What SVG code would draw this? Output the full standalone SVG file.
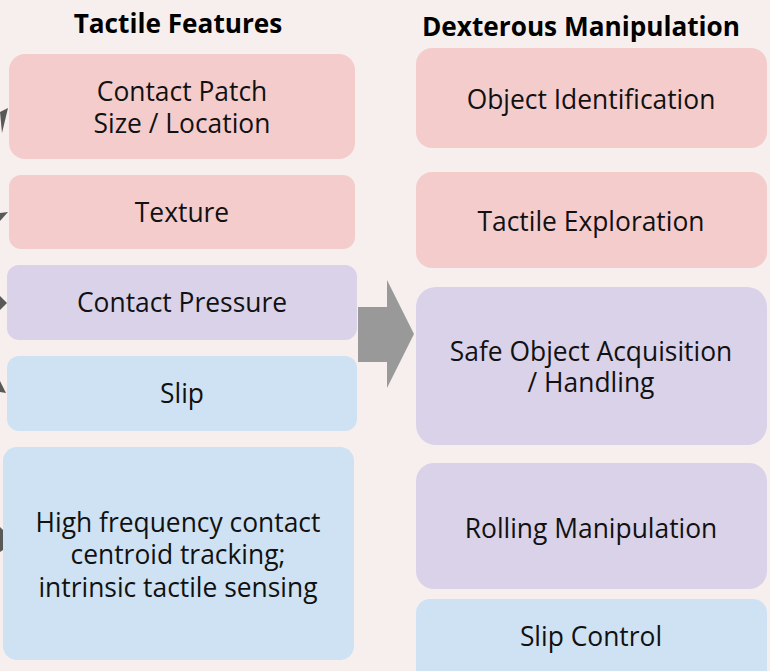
<svg xmlns="http://www.w3.org/2000/svg" width="770" height="671" viewBox="0 0 770 671">
<style>
text{font-family:"Open Sans","Noto Sans","Liberation Sans",sans-serif;font-size:26.4px;fill:#111;text-anchor:middle}
.title{font-weight:bold;font-size:26.2px;fill:#000}
.pink{fill:#f4cccc}
.purple{fill:#d9d2e9}
.blue{fill:#cfe2f3}
.tip{fill:#595959}
.big{fill:#999999}
</style>
<rect width="770" height="671" fill="#f7efed"/>
<text class="title" x="178" y="33">Tactile Features</text>
<text class="title" x="581" y="36">Dexterous Manipulation</text>
<g id="connectors">
<polygon class="tip" points="0,112 8,108 2,133"/>
<polygon class="tip" points="0,213 8,212 0,221"/>
<polygon class="tip" points="0,296 7,303 0,310"/>
<polygon class="tip" points="0,381 6,393 0,392"/>
<polygon class="tip" points="0,527 3,530 3,550 0,552"/>
<polygon class="big" points="358,307 387,307 387,280 414,334 387,388 387,362 358,362"/>
</g>
<g id="contact-patch"><rect class="pink" x="9" y="54" width="346" height="105" rx="16"/><text x="182" y="101">Contact Patch</text><text x="182" y="133">Size / Location</text></g>
<g id="texture"><rect class="pink" x="9" y="175" width="346" height="74" rx="12"/><text x="182" y="222">Texture</text></g>
<g id="contact-pressure"><rect class="purple" x="7" y="265" width="350" height="75" rx="12"/><text x="182" y="312">Contact Pressure</text></g>
<g id="slip"><rect class="blue" x="7" y="356" width="350" height="75" rx="12"/><text x="182" y="403">Slip</text></g>
<g id="high-frequency"><rect class="blue" x="3" y="447" width="351" height="213" rx="14"/><text x="178" y="532">High frequency contact</text><text x="178" y="564">centroid tracking;</text><text x="178" y="597">intrinsic tactile sensing</text></g>
<g id="object-identification"><rect class="pink" x="416" y="48" width="351" height="100" rx="16"/><text x="591" y="109">Object Identification</text></g>
<g id="tactile-exploration"><rect class="pink" x="416" y="172" width="351" height="96" rx="16"/><text x="591" y="231">Tactile Exploration</text></g>
<g id="safe-object"><rect class="purple" x="416" y="287" width="351" height="158" rx="20"/><text x="591" y="361">Safe Object Acquisition</text><text x="591" y="392">/ Handling</text></g>
<g id="rolling"><rect class="purple" x="416" y="463" width="351" height="126" rx="18"/><text x="591" y="538">Rolling Manipulation</text></g>
<g id="slip-control"><rect class="blue" x="416" y="599" width="351" height="90" rx="14"/><text x="591" y="646">Slip Control</text></g>
</svg>
